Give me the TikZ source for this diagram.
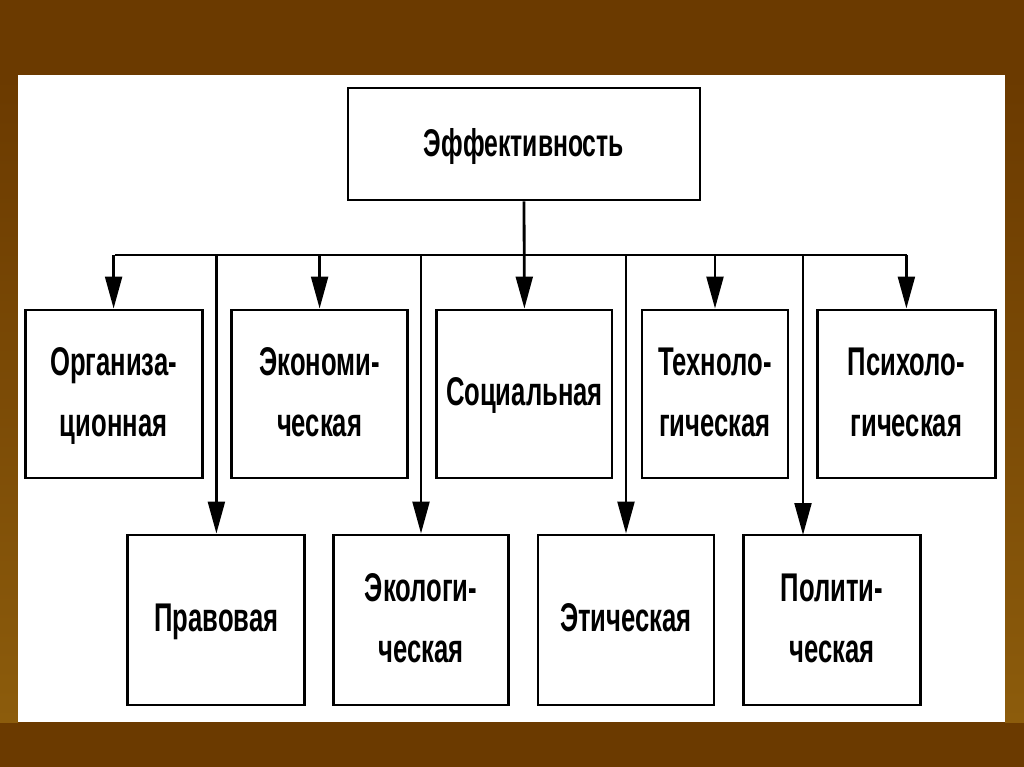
\documentclass[tikz,border=0pt]{standalone}
\usepackage{fontspec}
\setmainfont{Liberation Sans}[FakeStretch=0.64]
\usetikzlibrary{arrows.meta}

\definecolor{slidebrown}{RGB}{107,58,0}
\definecolor{slideochre}{RGB}{140,92,12}

\tikzset{
  kindbox/.style={draw, line width=2pt, fill=white, align=center,
    inner sep=0pt, text depth=0.1cm, font=\bfseries\fontsize{28.5}{43}\selectfont},
  feed/.style={line width=2pt, -{Triangle[length=0.8cm, width=0.42cm]}},
  bus/.style={line width=2pt}
}

\begin{document}
\begin{tikzpicture}

% Slide background
\useasboundingbox (0,0) rectangle (25.6,-19.175);
\fill[slidebrown] (0,0) rectangle (25.6,-19.175);
\shade[top color=slidebrown, bottom color=slideochre] (0,-1.875) rectangle (0.45,-18.05);
\shade[top color=slidebrown, bottom color=slideochre] (25.125,-1.875) rectangle (25.6,-18.05);
\fill[white] (0.45,-1.875) rectangle (25.125,-18.05);

% Top box
\node[kindbox, minimum width=8.8cm, minimum height=2.8cm,
  font=\bfseries\fontsize{27.5}{41}\selectfont] (eff) at (13.1,-3.6) {Эффективность};

% First row
\node[kindbox, minimum width=4.425cm, minimum height=4.2cm] (org) at (2.84,-9.85) {Организа-\\ционная};
\node[kindbox, minimum width=4.4cm, minimum height=4.2cm] (eco) at (7.99,-9.85) {Экономи-\\ческая};
\node[kindbox, minimum width=4.375cm, minimum height=4.2cm] (soc) at (13.11,-9.85) {Социальная};
\node[kindbox, minimum width=3.65cm, minimum height=4.2cm] (tech) at (17.875,-9.85) {Техноло-\\гическая};
\node[kindbox, minimum width=4.45cm, minimum height=4.2cm] (psy) at (22.66,-9.85) {Психоло-\\гическая};

% Second row
\node[kindbox, minimum width=4.425cm, minimum height=4.25cm] (prav) at (5.41,-15.5) {Правовая};
\node[kindbox, minimum width=4.375cm, minimum height=4.25cm] (ecol) at (10.525,-15.5) {Экологи-\\ческая};
\node[kindbox, minimum width=4.4cm, minimum height=4.25cm] (eth) at (15.65,-15.5) {Этическая};
\node[kindbox, minimum width=4.425cm, minimum height=4.25cm] (pol) at (20.8,-15.5) {Полити-\\ческая};
\coordinate (polin) at (20.075,-13.375);

% Bus line
\coordinate (busL) at (2.875,-6.375);
\coordinate (busR) at (22.675,-6.375);
\draw[bus] (busL) -- (busR);
\draw[feed] (eff.south) -- (soc.north);

% Arrows to the boxes
\foreach \n in {org,eco,tech,psy,prav,ecol,eth}
  \draw[feed] (\n.north |- busL) -- (\n.north);
\draw[feed] (polin |- busL) -- (polin);

\end{tikzpicture}
\end{document}
